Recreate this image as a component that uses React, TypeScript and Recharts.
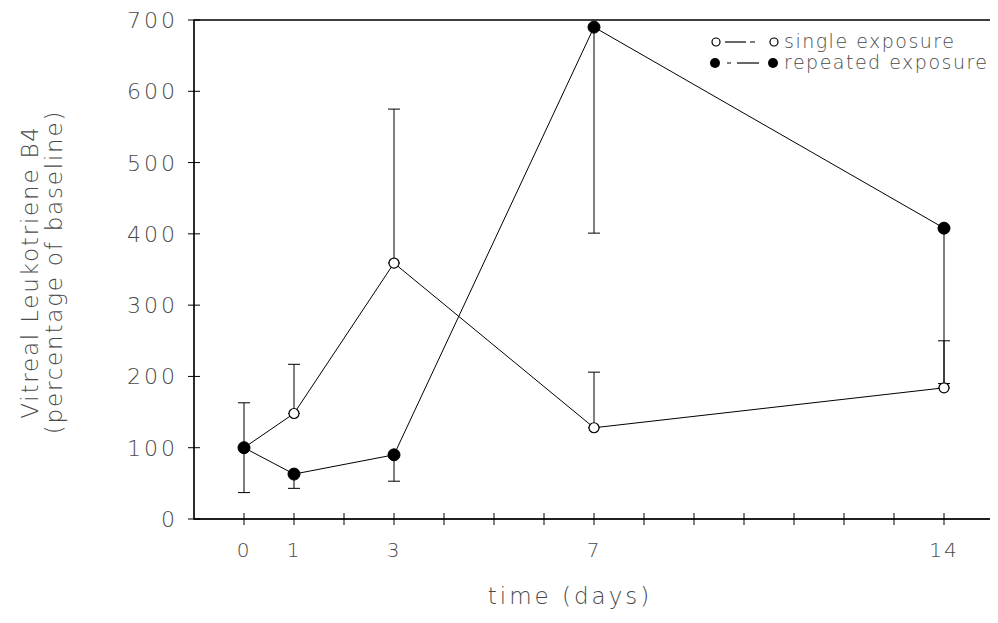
import React from "react";
import { LineChart, Line, XAxis, YAxis, ErrorBar, ReferenceArea } from "recharts";

const days = [0, 1, 3, 7, 14];
const singleValues = [100, 148, 359, 128, 184];
const singleErrors = [[0, 63], [0, 69], [0, 216], [0, 78], [0, 66]];
const repeatedValues = [100, 63, 90, 690, 408];
const repeatedErrors = [[63, 0], [20, 0], [37, 0], [289, 0], [218, 0]];
const xTicks = [0, 1, 2, 3, 4, 5, 6, 7, 8, 9, 10, 11, 12, 13, 14];
const xLabels = [0, 1, 3, 7, 14];
const yTicks = [0, 100, 200, 300, 400, 500, 600, 700];

const data = days.map((d, i) => ({
  day: d,
  single: singleValues[i],
  singleErr: singleErrors[i],
  repeated: repeatedValues[i],
  repeatedErr: repeatedErrors[i],
}));

const FONT = "'DejaVu Sans', sans-serif";
const TEXT = "#4a4a4a";
const W = 990;
const H = 607;

const XTick = (props: any) => {
  const { x, y, payload } = props;
  const show = xLabels.includes(payload.value);
  return (
    <g>
      <line x1={x} x2={x} y1={y - 6} y2={y + 6} stroke="#000" strokeWidth={1} />
      {show && (
        <text x={x} y={y + 38} textAnchor="middle" fontFamily={FONT} fontWeight={200} fontSize={20} fill={TEXT} letterSpacing={2}>
          {payload.value}
        </text>
      )}
    </g>
  );
};

const YTick = (props: any) => {
  const { x, y, payload } = props;
  return (
    <g>
      <line x1={x - 6} x2={x + 6} y1={y} y2={y} stroke="#000" strokeWidth={1} />
      <text x={x - 16} y={y + 8} textAnchor="end" fontFamily={FONT} fontWeight={200} fontSize={22} fill={TEXT} letterSpacing={3}>
        {payload.value}
      </text>
    </g>
  );
};

const OpenDot = (props: any) => {
  const { cx, cy } = props;
  return <circle cx={cx} cy={cy} r={5} fill="#fff" stroke="#000" strokeWidth={1.2} />;
};
const FilledDot = (props: any) => {
  const { cx, cy } = props;
  return <circle cx={cx} cy={cy} r={6} fill="#000" stroke="#000" />;
};

const LegendContent = () => (
  <svg width={290} height={50}>
    <g fontFamily={FONT} fontWeight={200} fontSize={19} fill={TEXT} letterSpacing={1.5}>
      <circle cx={8} cy={16} r={4} fill="#fff" stroke="#000" strokeWidth={1.2} />
      <line x1={17} x2={38} y1={16} y2={16} stroke="#000" strokeWidth={1.2} />
      <line x1={42} x2={47} y1={16} y2={16} stroke="#000" strokeWidth={1} />
      <circle cx={66} cy={16} r={4} fill="#fff" stroke="#000" strokeWidth={1.2} />
      <text x={76} y={22}>single exposure</text>
      <circle cx={7} cy={37} r={5} fill="#000" />
      <line x1={19} x2={23} y1={37} y2={37} stroke="#000" strokeWidth={1} />
      <line x1={29} x2={51} y1={37} y2={37} stroke="#000" strokeWidth={1.2} />
      <circle cx={65} cy={37} r={5} fill="#000" />
      <text x={76} y={43}>repeated exposure</text>
    </g>
  </svg>
);

export default function App() {
  return (
    <div style={{ position: "relative", width: W, height: H, background: "#fff", overflow: "hidden" }}>
      <LineChart width={W} height={H} data={data} margin={{ top: 12, right: 4, left: 0, bottom: 36 }}>
        <XAxis
          dataKey="day"
          type="number"
          domain={[-1, 15]}
          ticks={xTicks}
          interval={0}
          tick={<XTick />}
          tickLine={false}
          tickSize={0}
          tickMargin={0}
          height={60}
          stroke="#000"
          allowDataOverflow
        />
        <YAxis
          type="number"
          domain={[0, 700]}
          ticks={yTicks}
          interval={0}
          tick={<YTick />}
          tickLine={false}
          tickSize={0}
          tickMargin={0}
          width={186}
          stroke="#000"
        />
        <ReferenceArea
          x1={-1}
          x2={15}
          y1={0}
          y2={700}
          fill="none"
          fillOpacity={0}
          stroke="#000"
          strokeWidth={1.3}
          ifOverflow="visible"
        />
        <Line
          dataKey="single"
          stroke="#000"
          strokeWidth={1}
          dot={<OpenDot />}
          activeDot={false}
          isAnimationActive={false}
        >
          <ErrorBar dataKey="singleErr" width={6} stroke="#000" strokeWidth={1} direction="y" />
        </Line>
        <Line
          dataKey="repeated"
          stroke="#000"
          strokeWidth={1}
          dot={<FilledDot />}
          activeDot={false}
          isAnimationActive={false}
        >
          <ErrorBar dataKey="repeatedErr" width={6} stroke="#000" strokeWidth={1} direction="y" />
        </Line>
      </LineChart>
      <div style={{ position: "absolute", left: 700, top: 18 }}>
        <LegendContent />
      </div>
      <div
        style={{
          position: "absolute",
          left: 0,
          top: 0,
          width: W,
          height: H,
          pointerEvents: "none",
        }}
      >
        <svg width={W} height={H}>
          <g fontFamily={FONT} fontWeight={200} fontSize={23} fill={TEXT} letterSpacing={1.8}>
            <text transform="translate(30,264) rotate(-90)" textAnchor="middle">Vitreal Leukotriene B4</text>
            <text transform="translate(54,264) rotate(-90)" textAnchor="middle">(percentage of baseline)</text>
            <text x={562} y={596} textAnchor="middle" letterSpacing={3}>time (days)</text>
          </g>
        </svg>
      </div>
    </div>
  );
}
